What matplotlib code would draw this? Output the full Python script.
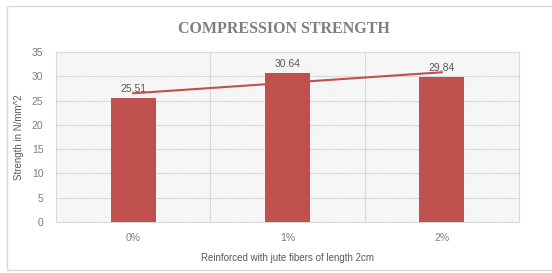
import matplotlib.pyplot as plt
import numpy as np
from matplotlib.patches import Rectangle

# Data
categories = ['0%', '1%', '2%']
strength = [25.51, 30.64, 29.84]

plt.rcParams['font.family'] = ['Liberation Sans', 'DejaVu Sans']
plt.rcParams['hatch.linewidth'] = 0.35

fig = plt.figure(figsize=(5.52, 2.73), dpi=100)
ax = fig.add_axes([56 / 552, 1 - 222 / 273, 463 / 552, 170 / 273])

# outer chart frame
fig.patches.append(Rectangle((7 / 552, 3 / 273), 1.2, 1 - 9 / 273,
                             transform=fig.transFigure, fill=False,
                             edgecolor='#d9d9d9', linewidth=1.0))

x = np.arange(len(categories))

# hatched plot-area background
ax.add_patch(Rectangle((-0.5, 0), 3, 35, facecolor='#fcfcfc', edgecolor='#e8e8e8',
                       hatch='\\' * 14, linewidth=0, zorder=0))

ax.bar(x, strength, width=0.29, color='#c0504d', zorder=3)

# linear trendline
coef = np.polyfit(x, strength, 1)
ax.plot(x, np.polyval(coef, x), color='#c0504d', linewidth=1.5, zorder=4)

for xi, v in zip(x, strength):
    ax.text(xi, v + 0.8, f'{v:.2f}', ha='center', va='bottom',
            fontsize=7.5, color='#595959', zorder=5)

ax.set_xlim(-0.5, 2.5)
ax.set_ylim(0, 35)
ax.set_yticks(range(0, 36, 5))
ax.set_xticks(x)
ax.set_xticklabels(categories)
ax.tick_params(length=0, labelsize=7.5, labelcolor='#7f7f7f', pad=8)
ax.tick_params(axis='y', pad=9)

for y in range(5, 36, 5):
    ax.axhline(y, color='#d9d9d9', linewidth=0.8, zorder=1)
for xb in [0.5, 1.5]:
    ax.axvline(xb, color='#d9d9d9', linewidth=0.8, zorder=1)
for s in ['top', 'right', 'left', 'bottom']:
    ax.spines[s].set_color('#d9d9d9')
    ax.spines[s].set_linewidth(0.8)

ax.set_xlabel('Reinforced with jute fibers of length 2cm', fontsize=7,
              color='#595959', labelpad=7)
ax.set_ylabel('Strength in N/mm^2', fontsize=7, color='#595959', labelpad=6)

fig.text(284 / 552, 1 - 29 / 273, 'COMPRESSION STRENGTH', ha='center', va='center',
         fontsize=11.5, fontweight='bold', color='#7f7f7f', family='Liberation Serif')

fig.savefig('out.png', dpi=100)
